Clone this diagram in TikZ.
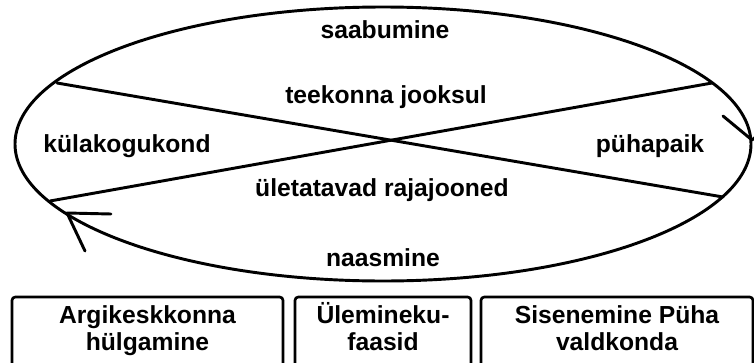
\documentclass[tikz,border=0pt]{standalone}
\usepackage{fontspec}
\setmainfont{Liberation Sans}
\usetikzlibrary{arrows}

\begin{document}
\begin{tikzpicture}[line cap=round,line join=round,x=0.75pt,y=0.75pt,
    joon/.style={line width=2.2pt},
    silt/.style={font=\fontsize{18.5}{20.25}\selectfont\bfseries,inner sep=0pt,anchor=base},
    faas/.style={draw,line width=2pt,rounded corners=2.5pt},
    faastekst/.style={silt,align=center}]
  \useasboundingbox (0,0) rectangle (754,362);
  \clip (0,0) rectangle (754,362);
  % ring
  \draw[joon] (383,218) ellipse (368 and 137);
  \coordinate (ul) at (57,279);
  \coordinate (ur) at (712,279);
  \coordinate (ll) at (50,161);
  \coordinate (lr) at (723,165);
  \draw[joon] (ul) -- (lr);
  \draw[joon] (ll) -- (ur);
  % arrowheads on the ring
  \coordinate (paremots) at (752,222);
  \coordinate (vasakots) at (67,149);
  \draw[joon] (723,246) -- (paremots) -- (781,246);
  \draw[joon] (111,148) -- (vasakots) -- (85,111);
  % labels
  \node[silt] (saabumine) at (385,324) {saabumine};
  \node[silt] (teekond) at (386,259) {teekonna jooksul};
  \node[silt] (kula) at (127,210) {külakogukond};
  \node[silt] (puha) at (650,210) {pühapaik};
  \node[silt] (rajad) at (382,166) {ületatavad rajajooned};
  \node[silt] (naasmine) at (383,96) {naasmine};
  % phases
  \draw[faas] (12,-10) rectangle (283,65);
  \draw[faas] (295,-10) rectangle (471,65);
  \draw[faas] (481,-10) rectangle (753,65);
  \node[faastekst] (hulgamine) at (147.5,12) {Argikeskkonna\\hülgamine};
  \node[faastekst] (ylemineku) at (383,12) {Ülemineku-\\faasid};
  \node[faastekst] (sisenemine) at (617,12) {Sisenemine Püha\\valdkonda};
\end{tikzpicture}
\end{document}
